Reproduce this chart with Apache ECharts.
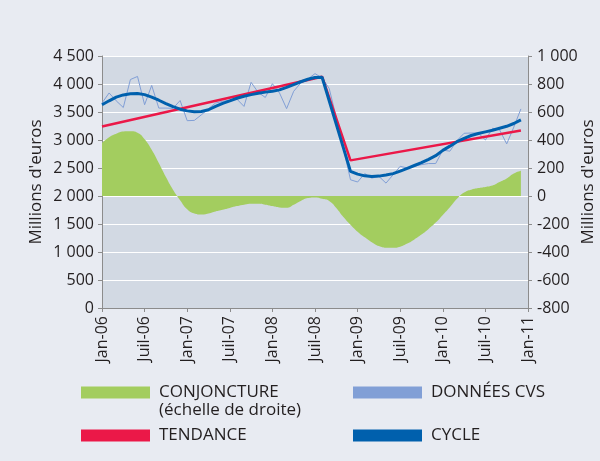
<!DOCTYPE html>
<html>
<head>
<meta charset="utf-8">
<script src="https://cdn.jsdelivr.net/npm/echarts@6/dist/echarts.min.js"></script>
<style>
html,body{margin:0;padding:0;background:#e8ebf2;}
#c{width:600px;height:461px;}
</style>
</head>
<body>
<div id="c"></div>
<script>
// Month labels (French) and years for the category axis
const months = ['Jan','Fév','Mar','Avr','Mai','Juin','Juil','Août','Sep','Oct','Nov','Déc'];
const years = ['06','07','08','09','10','11'];
const categories = [];
years.forEach(function(y, yi){
  months.forEach(function(m, mi){
    if (yi < years.length - 1 || mi === 0) categories.push(m + '-' + y);
  });
});

// Tick labels
const leftTicks = ['0','500','1 000','1 500','2 000','2 500','3 000','3 500','4 000','4 500'];
const rightTicks = ['-800','-600','-400','-200','0','200','400','600','800','1 000'];

// Series values (Jan-06 .. Dec-10)
const donneesCVS = [3660,3840,3700,3580,4080,4135,3630,3975,3570,3570,3565,3705,
  3345,3350,3450,3560,3660,3690,3710,3730,3600,4030,3850,3760,
  4005,3840,3560,3870,4020,4090,4185,4110,3920,3400,2850,2290,
  2250,2400,2320,2350,2230,2380,2530,2500,2530,2560,2580,2580,
  2820,2800,2990,3120,3125,3125,3000,3210,3180,2930,3230,3555];

const cycle = [3630,3700,3765,3805,3825,3830,3810,3765,3710,3650,3595,3550,
  3520,3505,3510,3540,3600,3655,3700,3745,3780,3810,3835,3855,
  3870,3895,3940,3990,4040,4085,4115,4120,null,null,null,2440,
  2390,2360,2350,2355,2375,2400,2445,2495,2545,2595,2655,2720,
  2815,2890,2970,3030,3080,3115,3145,3175,3210,3245,3295,3360];

const tendance = [3240,null,null,null,null,null,null,null,null,null,null,null,
  null,null,null,null,null,null,null,null,null,null,null,null,
  null,null,null,null,null,null,null,4130,null,null,null,2636,
  null,null,null,null,null,null,null,null,null,null,null,null,
  null,null,null,null,null,null,null,null,null,null,null,3171];

const conjoncture = [379,420,445,460,462,452,405,330,235,135,45,-30,
  -95,-125,-133,-125,-110,-98,-85,-72,-62,-55,-56,-62,
  -72,-82,-84,-62,-35,-15,-10,-20,-35,-85,-150,-205,
  -255,-295,-330,-358,-370,-370,-362,-340,-310,-275,-235,-190,
  -135,-80,-20,25,45,57,65,75,100,125,160,180];

const FONT = 'Open Sans';
const TXT = '#231f20';
const AX = '#8c8c8c';

const chart = echarts.init(document.getElementById('c'), null, {renderer:'canvas'});
const legendBase = {
  icon: 'rect', itemWidth: 69, itemHeight: 12, orient: 'vertical', padding: 0,
  selectedMode: false,
  textStyle: {fontFamily: FONT, fontSize: 17, color: TXT, padding: [0,0,0,4]}
};
chart.setOption({
  animation: false,
  backgroundColor: '#e8ebf2',
  textStyle: {fontFamily: FONT},
  grid: {left: 102, right: 72, top: 56, bottom: 153, show: true, outerBoundsMode: 'none',
         containLabel: false, backgroundColor: '#d2d9e3', borderWidth: 0},
  legend: [
    Object.assign({}, legendBase, {data: ['CONJONCTURE'], left: 81, top: 384}),
    Object.assign({}, legendBase, {data: ['TENDANCE'], left: 81, top: 427}),
    Object.assign({}, legendBase, {data: ['DONNÉES CVS'], left: 353, top: 384}),
    Object.assign({}, legendBase, {data: ['CYCLE'], left: 353, top: 427})
  ],
  graphic: [{
    type: 'text', left: 159, top: 402,
    style: {text: '(échelle de droite)', fontFamily: FONT, fontSize: 17, fill: TXT}
  }],
  xAxis: {
    type: 'category', data: categories, boundaryGap: false,
    axisLine: {lineStyle: {color: AX, width: 1}},
    axisTick: {show: true, interval: 5, length: 4, lineStyle: {color: AX}},
    axisLabel: {interval: 5, rotate: 90, margin: 8, fontFamily: FONT, fontSize: 16, color: TXT},
    splitLine: {show: false}
  },
  yAxis: [{
    type: 'value', min: 0, max: 4500, interval: 500, position: 'left',
    name: "Millions d'euros", nameLocation: 'middle', nameGap: 57, nameMoveOverlap: false,
    nameTextStyle: {fontFamily: FONT, fontSize: 17, color: TXT},
    axisLine: {show: true, lineStyle: {color: AX, width: 1}},
    axisTick: {show: true, length: 4, lineStyle: {color: AX}},
    axisLabel: {margin: 8, fontFamily: FONT, fontSize: 16, color: TXT,
      formatter: function(v){ return leftTicks[Math.round(v/500)]; }},
    splitLine: {show: true, lineStyle: {color: '#ffffff', width: 1}}
  }, {
    type: 'value', min: -800, max: 1000, interval: 200, position: 'right',
    name: "Millions d'euros", nameLocation: 'middle', nameGap: 52, nameRotate: 90,
    nameMoveOverlap: false,
    nameTextStyle: {fontFamily: FONT, fontSize: 17, color: TXT},
    axisLine: {show: true, lineStyle: {color: AX, width: 1}},
    axisTick: {show: true, length: 4, lineStyle: {color: AX}},
    axisLabel: {margin: 9, fontFamily: FONT, fontSize: 16, color: TXT,
      formatter: function(v){ return rightTicks[Math.round((v+800)/200)]; }},
    splitLine: {show: false}
  }],
  series: [{
    name: 'CONJONCTURE', type: 'line', yAxisIndex: 1, data: conjoncture,
    smooth: true, showSymbol: false, z: 1,
    itemStyle: {color: '#a3cd5f'},
    lineStyle: {width: 0, color: '#a3cd5f'},
    areaStyle: {color: '#a3cd5f', opacity: 1}
  }, {
    name: 'DONNÉES CVS', type: 'line', yAxisIndex: 0, data: donneesCVS,
    showSymbol: false, z: 2,
    itemStyle: {color: '#819fd6'},
    lineStyle: {width: 1, color: '#819fd6'}
  }, {
    name: 'TENDANCE', type: 'line', yAxisIndex: 0, data: tendance,
    connectNulls: true, showSymbol: false, z: 3,
    itemStyle: {color: '#eb1848'},
    lineStyle: {width: 2.5, color: '#eb1848'}
  }, {
    name: 'CYCLE', type: 'line', yAxisIndex: 0, data: cycle,
    connectNulls: true, showSymbol: false, z: 4,
    itemStyle: {color: '#0060ad'},
    lineStyle: {width: 3, color: '#0060ad'}
  }]
});
</script>
</body>
</html>
